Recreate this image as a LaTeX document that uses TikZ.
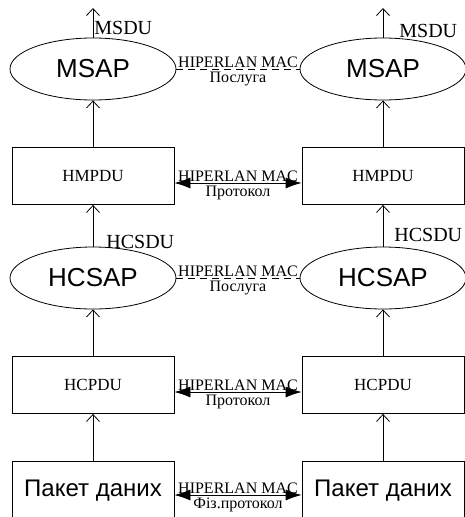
\documentclass[tikz,border=0pt]{standalone}
\usepackage{fontspec}
\setmainfont{Liberation Serif}
\setsansfont{Liberation Sans}
\usetikzlibrary{shapes.geometric,arrows.meta}

\begin{document}
\begin{tikzpicture}[x=1pt,y=-1pt,line width=0.8pt]
  % Local definitions
  \def\colL{93}
  \def\colR{383}

  % Styles
  \tikzstyle{sap}=[draw,ellipse,minimum width=166pt,minimum height=62pt,inner sep=0pt,font=\sffamily\fontsize{26}{26}\selectfont]
  \tikzstyle{pdu}=[draw,rectangle,minimum width=162pt,minimum height=57pt,inner sep=0pt,font=\fontsize{17}{17}\selectfont]
  \tikzstyle{packet}=[pdu,minimum height=60pt,font=\sffamily\fontsize{24}{24}\selectfont]
  \tikzstyle{up arrow}=[-{Straight Barb[length=7pt,width=13pt]}]
  \tikzstyle{peer arrow}=[{Latex[length=16pt,width=11pt]}-{Latex[length=16pt,width=11pt]}]
  \tikzstyle{peer service}=[dash pattern=on 7pt off 5pt]
  \tikzstyle{mac text}=[font=\fontsize{16}{16}\selectfont,inner sep=1pt]
  \tikzstyle{sdu text}=[font=\fontsize{20}{20}\selectfont,inner sep=0pt,anchor=west]

  \useasboundingbox (0,0) rectangle (464,517);

  % Key Points
  \coordinate (msduL) at (\colL,8);
  \coordinate (msduR) at (\colR,8);

  % The two stacks
  \node[sap]    (msapL)  at (\colL,69)  {MSAP};
  \node[sap]    (msapR)  at (\colR,69)  {MSAP};
  \node[pdu]    (hmpduL) at (\colL,176) {HMPDU};
  \node[pdu]    (hmpduR) at (\colR,176) {HMPDU};
  \node[sap]    (hcsapL) at (\colL,278) {HCSAP};
  \node[sap]    (hcsapR) at (\colR,278) {HCSAP};
  \node[pdu]    (hcpduL) at (\colL,385) {HCPDU};
  \node[pdu]    (hcpduR) at (\colR,385) {HCPDU};
  \node[packet] (paketL) at (\colL,491) {Пакет даних};
  \node[packet] (paketR) at (\colR,491) {Пакет даних};

  % Up the stacks
  \draw[up arrow] (msapL)  -- (msduL);
  \draw[up arrow] (msapR)  -- (msduR);
  \draw[up arrow] (hmpduL) -- (msapL);
  \draw[up arrow] (hmpduR) -- (msapR);
  \draw[up arrow] (hcsapL) -- (hmpduL);
  \draw[up arrow] (hcsapR) -- (hmpduR);
  \draw[up arrow] (hcpduL) -- (hcsapL);
  \draw[up arrow] (hcpduR) -- (hcsapR);
  \draw[up arrow] (paketL) -- (hcpduL);
  \draw[up arrow] (paketR) -- (hcpduR);

  \node[sdu text] (msduTL)  at (94,28)   {MSDU};
  \node[sdu text] (msduTR)  at (399,31)  {MSDU};
  \node[sdu text] (hcsduTL) at (106,242) {HCSDU};
  \node[sdu text] (hcsduTR) at (394,235) {HCSDU};

  % Across the stacks
  \draw[peer service] (msapL) -- node[mac text,above=0pt] {HIPERLAN MAC}
                                 node[mac text,below=2pt] {Послуга} (msapR);
  \draw[peer arrow] ([yshift=-7pt]hmpduL.east) -- node[mac text,above=0pt] {HIPERLAN MAC}
                                                   node[mac text,below=2pt] {Протокол} ([yshift=-7pt]hmpduR.west);
  \draw[peer service] (hcsapL) -- node[mac text,above=0pt] {HIPERLAN MAC}
                                   node[mac text,below=2pt] {Послуга} (hcsapR);
  \draw[peer arrow] ([yshift=-7pt]hcpduL.east) -- node[mac text,above=0pt] {HIPERLAN MAC}
                                                   node[mac text,below=2pt] {Протокол} ([yshift=-7pt]hcpduR.west);
  \draw[peer arrow] ([yshift=-4pt]paketL.east) -- node[mac text,above=0pt] {HIPERLAN MAC}
                                                   node[mac text,below=1pt] {Фіз.протокол} ([yshift=-4pt]paketR.west);
\end{tikzpicture}
\end{document}
